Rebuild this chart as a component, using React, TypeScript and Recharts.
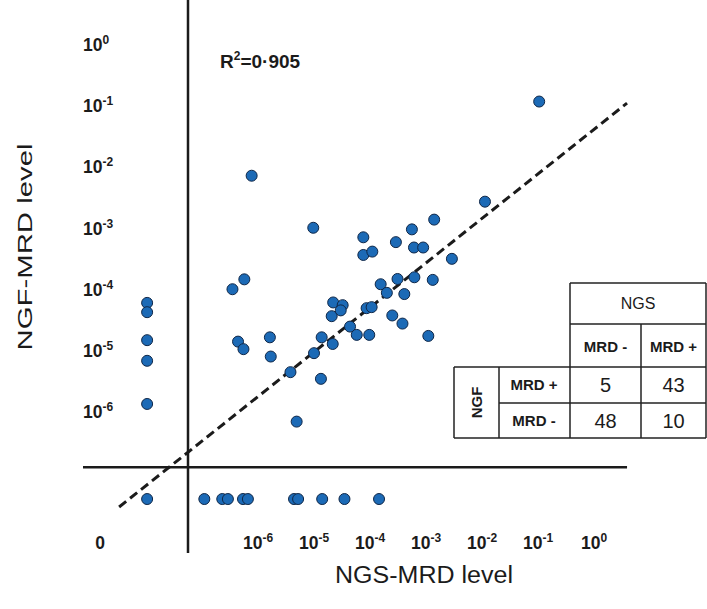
import { ScatterChart, Scatter, XAxis, YAxis, ReferenceLine } from 'recharts';

// MRD levels per sample (0 = negative by that method)
const ngsLevel = [
  // NGS negative, NGF positive
  0, 0, 0, 0, 0,
  // NGF negative, NGS positive
  1.1e-7, 2.3e-7, 2.9e-7, 5.4e-7, 6.6e-7, 4.4e-6, 5.2e-6, 1.4e-5, 3.5e-5, 1.45e-4,
  // both negative
  0,
  // both positive
  7.7e-7, 9.7e-6, 3.5e-7, 5.7e-7, 2.2e-5, 3.25e-5, 2.07e-5, 3.0e-5, 4.4e-7, 5.5e-7,
  1.63e-6, 1.69e-6, 1.37e-5, 2.16e-5, 4.4e-5, 5.8e-5, 1.0e-5, 3.8e-6, 1.33e-5, 4.9e-6,
  7.6e-5, 7.6e-5, 1.1e-4, 2.9e-4, 5.6e-4, 1.4e-3, 6.1e-4, 8.9e-4, 2.9e-3, 1.55e-4,
  3.1e-4, 6.2e-4, 1.32e-3, 2.0e-4, 4.1e-4, 8.7e-5, 1.07e-4, 2.5e-4, 3.8e-4, 9.7e-5,
  1.1e-3, 1.13e-2, 0.105,
];
const ngfLevel = [
  6.1e-5, 4.3e-5, 1.5e-5, 6.9e-6, 1.36e-6,
  0, 0, 0, 0, 0, 0, 0, 0, 0, 0,
  0,
  7.3e-3, 1.03e-3, 1.02e-4, 1.48e-4, 6.2e-5, 5.6e-5, 3.7e-5, 4.6e-5, 1.42e-5, 1.07e-5,
  1.67e-5, 8.1e-6, 1.67e-5, 1.3e-5, 2.5e-5, 1.83e-5, 9.2e-6, 4.5e-6, 3.5e-6, 7.0e-7,
  7.2e-4, 3.7e-4, 4.2e-4, 6.0e-4, 9.7e-4, 1.4e-3, 4.9e-4, 4.9e-4, 3.2e-4, 1.23e-4,
  1.5e-4, 1.6e-4, 1.45e-4, 8.9e-5, 8.5e-5, 5.0e-5, 5.2e-5, 3.8e-5, 2.8e-5, 1.83e-5,
  1.76e-5, 2.75e-3, 0.119,
];

// regression line endpoints, in log10 units
const fitLine = [
  { x: -8.48, y: -7.55 },
  { x: 0.59, y: -0.95 },
];
const rSquared = '0·905';

const xDecades = [-6, -5, -4, -3, -2, -1, 0];
const yDecades = [0, -1, -2, -3, -4, -5, -6];

const tableCols = ['MRD -', 'MRD +'];
const tableRows = ['MRD +', 'MRD -'];
const tableCounts = [
  [5, 43],
  [48, 10],
];

// where "negative" samples sit on the log axes
const ZERO_X = -7.98;
const ZERO_Y = -7.42;
const ZERO_LABEL_X = -8.82;
const SPLIT_X = -7.25;
const SPLIT_Y = -6.9;

const W = 707;
const H = 609;
const FONT = '"Liberation Sans", Arial, sans-serif';
const INK = '#1b1b1b';

const toPos = (v: number, zero: number) => (v > 0 ? Math.log10(v) : zero);

const points = ngsLevel.map((v, i) => ({
  x: toPos(v, ZERO_X),
  y: toPos(ngfLevel[i], ZERO_Y),
}));

function Dot(props: any) {
  return <circle cx={props.cx} cy={props.cy} r={5.5} fill="#1c6ab6" stroke="#0f2748" strokeWidth={1} />;
}

function XTick({ x, payload }: any) {
  const v = payload.value;
  return (
    <text x={x} y={549} textAnchor="middle" fontFamily={FONT} fontWeight="bold" fontSize={17.5} fill={INK}>
      {v === ZERO_LABEL_X ? (
        '0'
      ) : (
        <>
          10
          <tspan dy={-7} fontSize={12}>{v}</tspan>
        </>
      )}
    </text>
  );
}

function YTick({ y, payload }: any) {
  return (
    <text x={83} y={y + 6} textAnchor="start" fontFamily={FONT} fontWeight="bold" fontSize={17.5} fill={INK}>
      10
      <tspan dy={-7} fontSize={12}>{payload.value}</tspan>
    </text>
  );
}

function ContingencyTable() {
  const colX = [570, 641, 706];
  const rowY = [283, 324, 367, 403, 438];
  const stroke = { stroke: '#222', strokeWidth: 1.5 };
  return (
    <g fontFamily={FONT} fill={INK}>
      <line x1={570} y1={rowY[0]} x2={706} y2={rowY[0]} {...stroke} />
      <line x1={570} y1={rowY[1]} x2={706} y2={rowY[1]} {...stroke} />
      <line x1={454} y1={rowY[2]} x2={706} y2={rowY[2]} {...stroke} />
      <line x1={499} y1={rowY[3]} x2={706} y2={rowY[3]} {...stroke} />
      <line x1={454} y1={rowY[4]} x2={706} y2={rowY[4]} {...stroke} />
      <line x1={454} y1={rowY[2]} x2={454} y2={rowY[4]} {...stroke} />
      <line x1={499} y1={rowY[2]} x2={499} y2={rowY[4]} {...stroke} />
      <line x1={colX[0]} y1={rowY[0]} x2={colX[0]} y2={rowY[4]} {...stroke} />
      <line x1={colX[1]} y1={rowY[1]} x2={colX[1]} y2={rowY[4]} {...stroke} />
      <line x1={colX[2]} y1={rowY[0]} x2={colX[2]} y2={rowY[4]} {...stroke} />
      <text x={(colX[0] + colX[2]) / 2} y={309} textAnchor="middle" fontSize={16}>NGS</text>
      {tableCols.map((c, i) => (
        <text key={c} x={(colX[i] + colX[i + 1]) / 2} y={352} textAnchor="middle" fontSize={15} fontWeight="bold">
          {c}
        </text>
      ))}
      <text
        x={0}
        y={0}
        transform={`translate(482, ${(rowY[2] + rowY[4]) / 2}) rotate(-90)`}
        textAnchor="middle"
        fontSize={15}
        fontWeight="bold"
      >
        NGF
      </text>
      {tableRows.map((r, j) => (
        <g key={r}>
          <text x={534} y={(rowY[j + 2] + rowY[j + 3]) / 2 + 5} textAnchor="middle" fontSize={15} fontWeight="bold">
            {r}
          </text>
          {tableCounts[j].map((n, i) => (
            <text
              key={i}
              x={(colX[i] + colX[i + 1]) / 2}
              y={(rowY[j + 2] + rowY[j + 3]) / 2 + 7}
              textAnchor="middle"
              fontSize={20}
            >
              {n}
            </text>
          ))}
        </g>
      ))}
    </g>
  );
}

export default function App() {
  return (
    <div style={{ position: 'absolute', left: 0, top: 0, width: W, height: H, background: '#fff' }}>
      <ScatterChart width={W} height={H} margin={{ top: 0, right: 57, bottom: 0, left: 0 }}>
        <XAxis
          type="number"
          dataKey="x"
          domain={[-10, 1]}
          allowDataOverflow
          ticks={[ZERO_LABEL_X, ...xDecades]}
          interval={0}
          height={50}
          axisLine={false}
          tickLine={false}
          tick={<XTick />}
        />
        <YAxis
          type="number"
          dataKey="y"
          domain={[-8.4, 0.735]}
          allowDataOverflow
          ticks={yDecades}
          interval={0}
          width={34}
          axisLine={false}
          tickLine={false}
          tick={<YTick />}
        />
        <ReferenceLine
          segment={[
            { x: SPLIT_X, y: 0.735 },
            { x: SPLIT_X, y: -8.3 },
          ]}
          stroke={INK}
          strokeWidth={2.5}
        />
        <ReferenceLine
          segment={[
            { x: -9.125, y: SPLIT_Y },
            { x: 0.59, y: SPLIT_Y },
          ]}
          stroke={INK}
          strokeWidth={2.5}
        />
        <ReferenceLine segment={fitLine} stroke={INK} strokeWidth={3} strokeDasharray="9 5" />
        <Scatter data={points} shape={<Dot />} isAnimationActive={false} />
      </ScatterChart>
      <svg width={W} height={H} style={{ position: 'absolute', left: 0, top: 0, pointerEvents: 'none' }}>
        <text x={220} y={68} fontFamily={FONT} fontSize={19} fontWeight="bold" fill={INK}>
          R<tspan dy={-8} fontSize={12}>2</tspan>
          <tspan dy={8}>={rSquared}</tspan>
        </text>
        <text
          x={0}
          y={0}
          transform="translate(32, 247) rotate(-90)"
          textAnchor="middle"
          fontFamily={FONT}
          fontSize={20}
          textLength={207}
          lengthAdjust="spacingAndGlyphs"
          fill={INK}
        >
          NGF-MRD level
        </text>
        <text
          x={424}
          y={583}
          textAnchor="middle"
          fontFamily={FONT}
          fontSize={23}
          textLength={178}
          lengthAdjust="spacingAndGlyphs"
          fill={INK}
        >
          NGS-MRD level
        </text>
        <ContingencyTable />
      </svg>
    </div>
  );
}
